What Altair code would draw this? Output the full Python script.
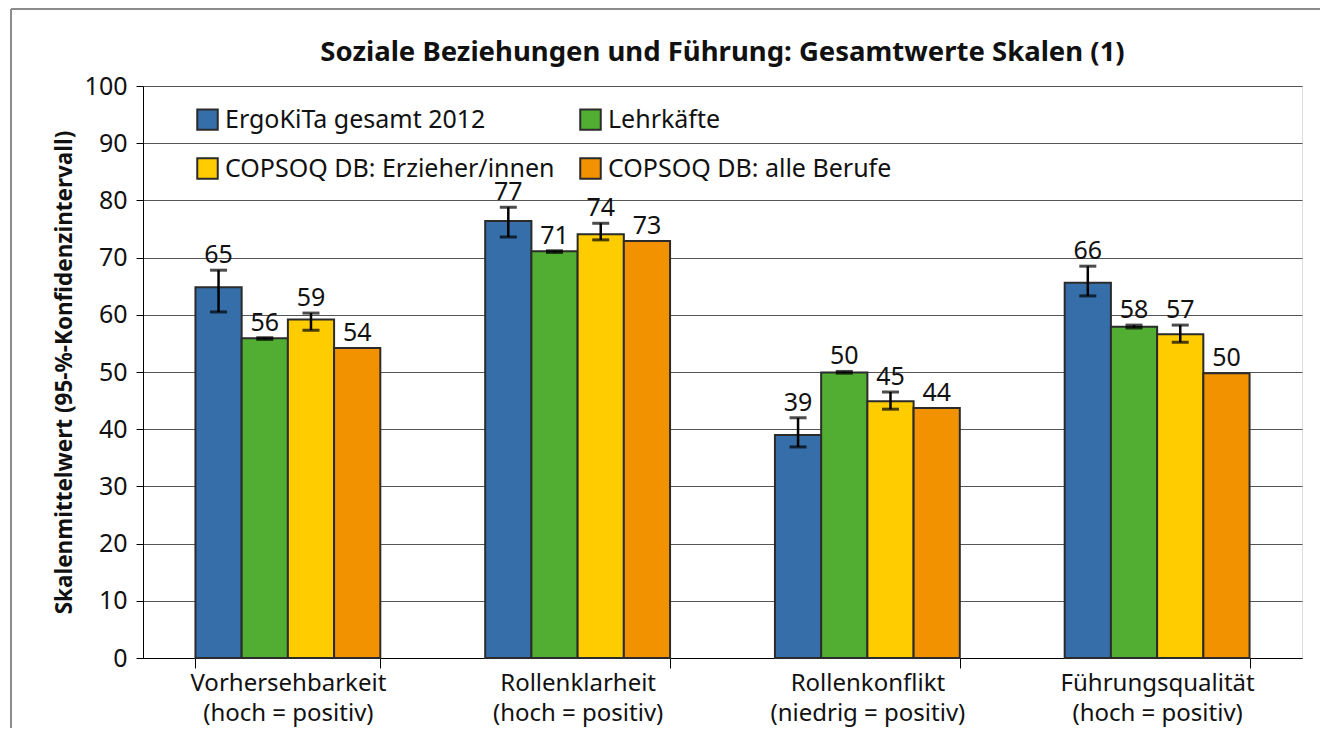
import altair as alt
import pandas as pd

categories = [
    "Vorhersehbarkeit\n(hoch = positiv)",
    "Rollenklarheit\n(hoch = positiv)",
    "Rollenkonflikt\n(niedrig = positiv)",
    "Führungsqualität\n(hoch = positiv)",
]
series = ["ErgoKiTa gesamt 2012", "Lehrkäfte", "COPSOQ DB: Erzieher/innen", "COPSOQ DB: alle Berufe"]
colors = ["#356EA8", "#52AE32", "#FFCC00", "#F39200"]

# mean values per category, in series order
means = [
    [64.8, 55.9, 59.2, 54.2],
    [76.4, 71.1, 74.1, 72.9],
    [39.0, 49.9, 44.9, 43.7],
    [65.6, 57.9, 56.6, 49.8],
]
lower = [
    [60.5, 55.7, 57.3, None],
    [73.6, 70.9, 73.1, None],
    [36.9, 49.8, 43.5, None],
    [63.3, 57.7, 55.2, None],
]
upper = [
    [67.8, 56.0, 60.3, None],
    [78.8, 71.2, 76.0, None],
    [42.0, 50.1, 46.5, None],
    [68.5, 58.2, 58.2, None],
]
labels = [
    [65, 56, 59, 54],
    [77, 71, 74, 73],
    [39, 50, 45, 44],
    [66, 58, 57, 50],
]

rows = []
for i, c in enumerate(categories):
    for j, s in enumerate(series):
        lo, hi = lower[i][j], upper[i][j]
        top = hi if hi is not None else means[i][j]
        rows.append({"cat": c, "series": s, "mean": means[i][j],
                     "lo": lo, "hi": hi, "top": top, "label": str(labels[i][j])})
df = pd.DataFrame(rows)
df_err = df.dropna(subset=["lo", "hi"])

FONT = "Noto Sans"

x_enc = alt.X("cat:N", sort=categories, title=None,
              scale=alt.Scale(paddingInner=0.362, paddingOuter=0.181),
              axis=alt.Axis(labelExpr="split(datum.label, '\\n')", labelAngle=0,
                            labelFontSize=24, labelColor="#111", labelPadding=3,
                            labelLineHeight=30, tickBand="extent", tickSize=10,
                            tickColor="#000", domainColor="#000", grid=False,
                            labelFont=FONT, labelLimit=400))
xo_enc = alt.XOffset("series:N", sort=series, scale=alt.Scale(paddingInner=0, paddingOuter=0))
y_scale = alt.Scale(domain=[0, 100], nice=False)

bars = alt.Chart(df).mark_bar(stroke="#2b2b2b", strokeWidth=2).encode(
    x=x_enc,
    xOffset=xo_enc,
    y=alt.Y("mean:Q", scale=y_scale,
            title="Skalenmittelwert (95-%-Konfidenzintervall)",
            axis=alt.Axis(values=list(range(0, 101, 10)), labelFontSize=25,
                          labelColor="#111", tickSize=7, tickColor="#000",
                          domainColor="#000", gridColor="#555", gridWidth=1.2,
                          titleFontSize=22.5, titleFontWeight="bold", titleColor="#111",
                          titlePadding=8, labelPadding=9, labelFont=FONT,
                          titleFont=FONT)),
    color=alt.Color("series:N", sort=series,
                    scale=alt.Scale(domain=series, range=colors),
                    legend=alt.Legend(title=None, orient="none", legendX=52, legendY=21,
                                      direction="horizontal", columns=2,
                                      symbolType="square", symbolSize=420,
                                      symbolStrokeColor="#2b2b2b", symbolStrokeWidth=2,
                                      labelFontSize=25, labelColor="#111", labelFont=FONT,
                                      labelOffset=5, rowPadding=20, columnPadding=21,
                                      padding=0, labelLimit=400)),
)

rules = alt.Chart(df_err).mark_rule(color="#000", strokeWidth=2.5).encode(
    x=alt.X("cat:N", sort=categories), xOffset=xo_enc,
    y=alt.Y("lo:Q", scale=y_scale), y2="hi:Q",
)
cap_lo = alt.Chart(df_err).mark_tick(color="#000", thickness=3, size=17).encode(
    x=alt.X("cat:N", sort=categories), xOffset=xo_enc,
    y=alt.Y("lo:Q", scale=y_scale),
)
cap_hi = alt.Chart(df_err).mark_tick(color="#000", thickness=3, size=17).encode(
    x=alt.X("cat:N", sort=categories), xOffset=xo_enc,
    y=alt.Y("hi:Q", scale=y_scale),
)
text = alt.Chart(df).mark_text(baseline="alphabetic", dy=-7, fontSize=25, color="#111",
                               font=FONT).encode(
    x=alt.X("cat:N", sort=categories), xOffset=xo_enc,
    y=alt.Y("top:Q", scale=y_scale),
    text="label:N",
)

frame_df = pd.DataFrame({"k": [0]})
frame_left = alt.Chart(frame_df).mark_rule(color="#8c8c8c", strokeWidth=2).encode(
    x=alt.value(-132), y=alt.value(-77), y2=alt.value(720))
frame_top = alt.Chart(frame_df).mark_rule(color="#8c8c8c", strokeWidth=2).encode(
    x=alt.value(-132), x2=alt.value(1300), y=alt.value(-77))

chart = alt.layer(frame_left, frame_top, bars, rules, cap_lo, cap_hi, text).properties(
    width=1159, height=572,
    title=alt.TitleParams("Soziale Beziehungen und Führung: Gesamtwerte Skalen (1)",
                          fontSize=27.5, fontWeight="bold", color="#111", font=FONT,
                          anchor="middle", offset=0, dy=58, frame="group"),
    padding={"left": 135, "top": 78, "right": 18, "bottom": 70},
    autosize=alt.AutoSizeParams(type="none"),
).configure_view(stroke="#000", strokeWidth=1.2).configure(font=FONT)

chart.save("out.html", embed_options={"renderer": "svg", "actions": False})
